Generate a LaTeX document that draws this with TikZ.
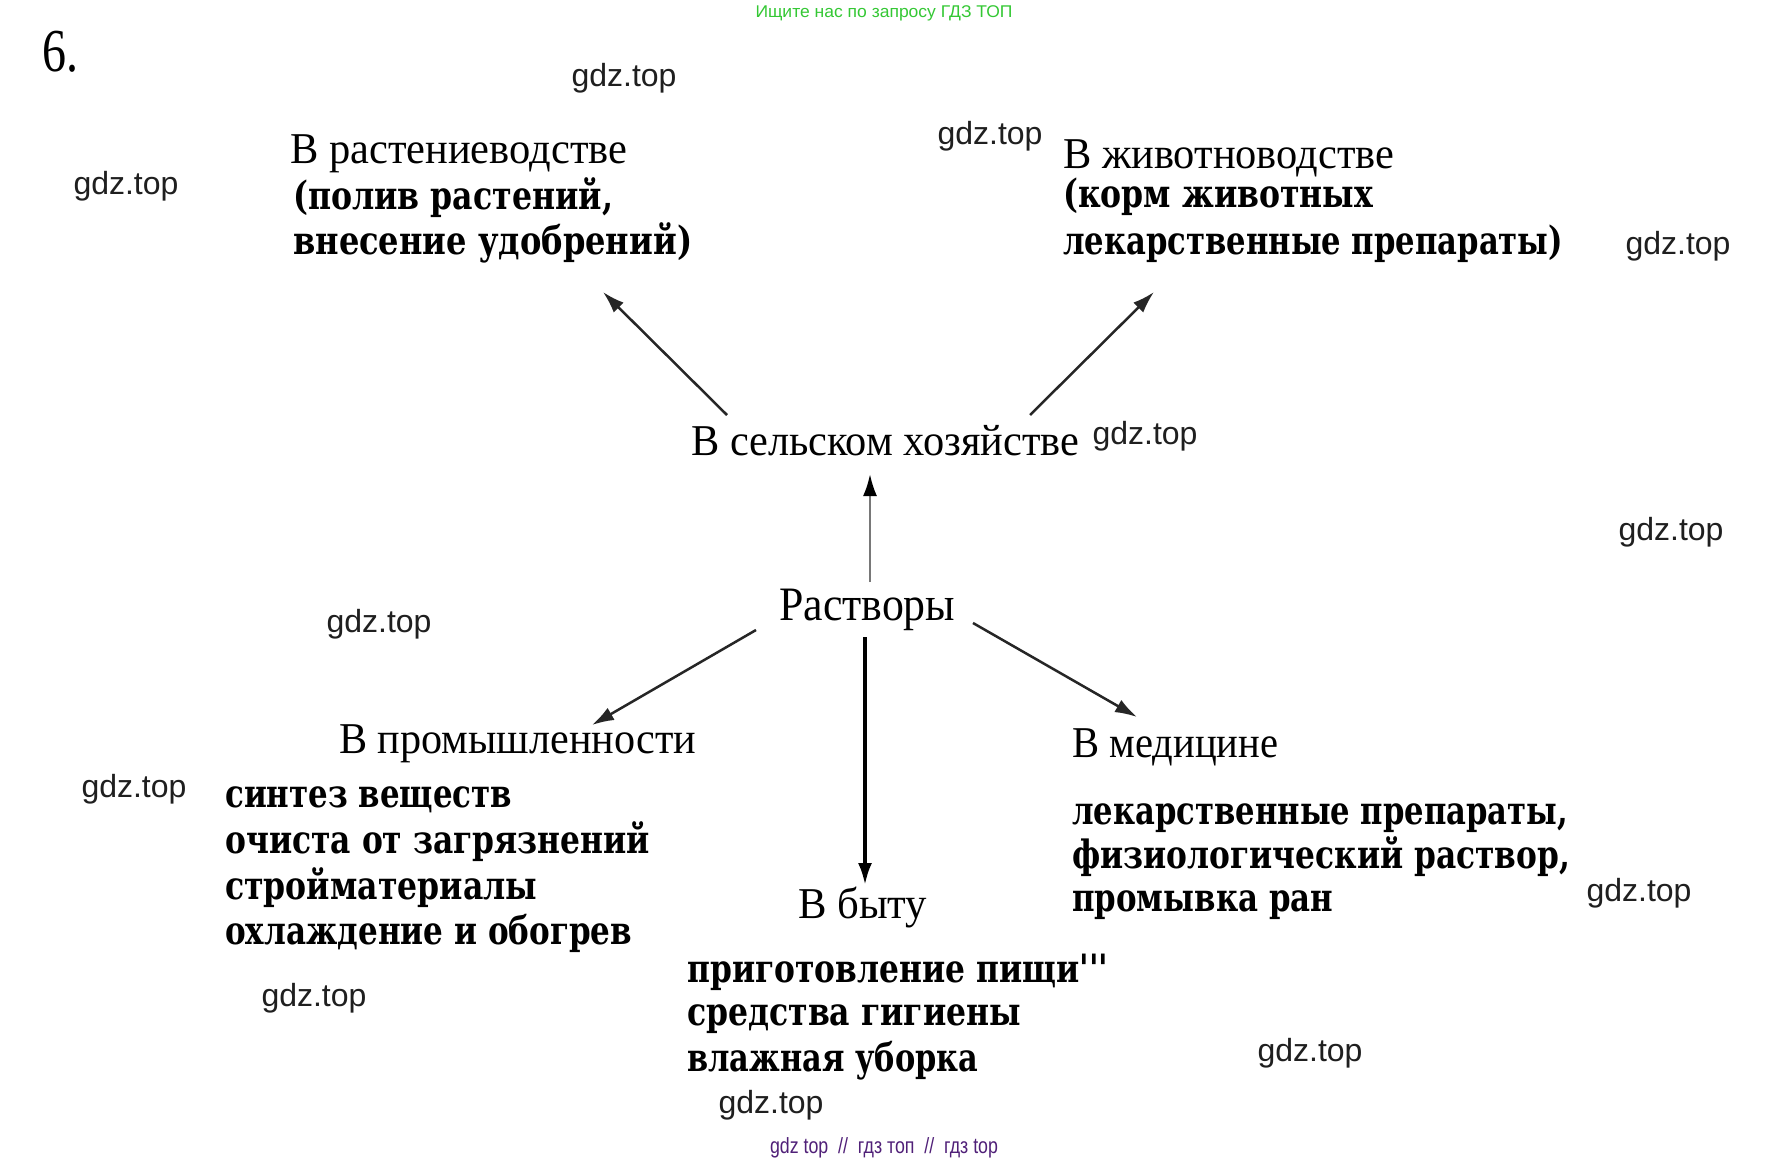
\documentclass[tikz,border=0pt]{standalone}
\usepackage{fontspec}
\usepackage{graphicx}
\setmainfont{Liberation Serif}
\newfontfamily\wmfont{Liberation Sans}
\newfontfamily\itemfont{DejaVu Serif}
\usetikzlibrary{arrows.meta}
\newcommand\fitw[2]{\resizebox{#1pt}{\height}{#2}}
\definecolor{wmgreen}{RGB}{52,200,52}
\definecolor{wmpurple}{RGB}{80,32,120}
\definecolor{arrgray}{RGB}{120,120,120}
\tikzset{
  head/.style={anchor=base west, inner sep=0pt, font=\fontsize{44}{50}\selectfont},
  item/.style={anchor=base west, inner sep=0pt, font=\itemfont\bfseries\fontsize{39}{46}\selectfont},
  wm/.style={anchor=base, inner sep=0pt, text=black!88, font=\wmfont\fontsize{32}{36}\selectfont},
  arr/.style={draw=black!85, line width=2.5pt, -{Latex[length=22pt,width=14pt]}},
}
\begin{document}
\begin{tikzpicture}[x=1pt,y=-1pt]
\fill[white] (0,0) rectangle (1771,1162);
\useasboundingbox (0,0) rectangle (1771,1162);

% header/footer texts
\node[anchor=base, inner sep=0pt, text=wmgreen, font=\wmfont\fontsize{17}{20}\selectfont] (topline) at (884,17) {\fitw{257}{Ищите нас по запросу ГДЗ ТОП}};
\node[anchor=base, inner sep=0pt, text=wmpurple, font=\wmfont\fontsize{22}{26}\selectfont] (botline) at (884,1153) {\fitw{228}{gdz top \ // \ гдз топ \ // \ гдз top}};
\node[anchor=base west, inner sep=0pt, font=\fontsize{61}{70}\selectfont] (num) at (42,71) {\fitw{36}{6.}};

% top left block
\node[head] (h1) at (290,163) {\fitw{337}{В растениеводстве}};
\node[item] (h1a) at (293,209) {\fitw{320}{(полив растений,}};
\node[item] (h1b) at (293,254) {\fitw{399}{внесение удобрений)}};

% top right block
\node[head] (h2) at (1063,168) {\fitw{331}{В животноводстве}};
\node[item] (h2a) at (1063,207) {\fitw{310}{(корм животных}};
\node[item] (h2b) at (1063,254) {\fitw{500}{лекарственные препараты)}};

% middle
\node[head] (agri) at (691,455) {\fitw{388}{В сельском хозяйстве}};
\node[head, font=\fontsize{48}{54}\selectfont] (sol) at (779,620) {\fitw{176}{Растворы}};

% industry
\node[head] (ind) at (339,753) {\fitw{357}{В промышленности}};
\node[item] (ind1) at (225,807) {\fitw{287}{синтез веществ}};
\node[item] (ind2) at (225,853) {\fitw{425}{очиста от загрязнений}};
\node[item] (ind3) at (225,899) {\fitw{312}{стройматериалы}};
\node[item] (ind4) at (225,944) {\fitw{407}{охлаждение и обогрев}};

% home
\node[head] (home) at (798,918) {\fitw{129}{В быту}};
\node[item] (home1) at (687,982) {\fitw{421}{приготовление пищи\textquotesingle\textquotesingle\textquotesingle}};
\node[item] (home2) at (687,1025) {\fitw{334}{средства гигиены}};
\node[item] (home3) at (687,1071) {\fitw{291}{влажная уборка}};

% medicine
\node[head] (med) at (1072,757) {\fitw{206}{В медицине}};
\node[item] (med1) at (1072,824) {\fitw{496}{лекарственные препараты,}};
\node[item] (med2) at (1072,868) {\fitw{498}{физиологический раствор,}};
\node[item] (med3) at (1072,911) {\fitw{261}{промывка ран}};

% arrow end points
\coordinate (a1s) at (727,415);  \coordinate (a1e) at (603,292);
\coordinate (a2s) at (1030,415); \coordinate (a2e) at (1154,292);
\coordinate (a3s) at (870,582);  \coordinate (a3e) at (870,474);
\coordinate (a4s) at (756,630);  \coordinate (a4e) at (592,725);
\coordinate (a5s) at (865,637);  \coordinate (a5e) at (865,885);
\coordinate (a6s) at (973,623);  \coordinate (a6e) at (1137,717);

\draw[arr] (a1s) -- (a1e);
\draw[arr] (a2s) -- (a2e);
\draw[arr, draw=arrgray, {-{Latex[length=22pt,width=14pt,fill=black,color=black]}}] (a3s) -- (a3e);
\draw[arr] (a4s) -- (a4e);
\draw[arr, draw=black, line width=3.5pt] (a5s) -- (a5e);
\draw[arr] (a6s) -- (a6e);

% watermarks
\node[wm] (w1) at (624,86) {gdz.top};
\node[wm] (w2) at (126,194) {gdz.top};
\node[wm] (w3) at (990,144) {gdz.top};
\node[wm] (w4) at (1678,254) {gdz.top};
\node[wm] (w5) at (1145,444) {gdz.top};
\node[wm] (w6) at (1671,540) {gdz.top};
\node[wm] (w7) at (379,632) {gdz.top};
\node[wm] (w8) at (134,797) {gdz.top};
\node[wm] (w9) at (1639,901) {gdz.top};
\node[wm] (w10) at (314,1006) {gdz.top};
\node[wm] (w11) at (1310,1061) {gdz.top};
\node[wm] (w12) at (771,1113) {gdz.top};
\end{tikzpicture}
\end{document}
